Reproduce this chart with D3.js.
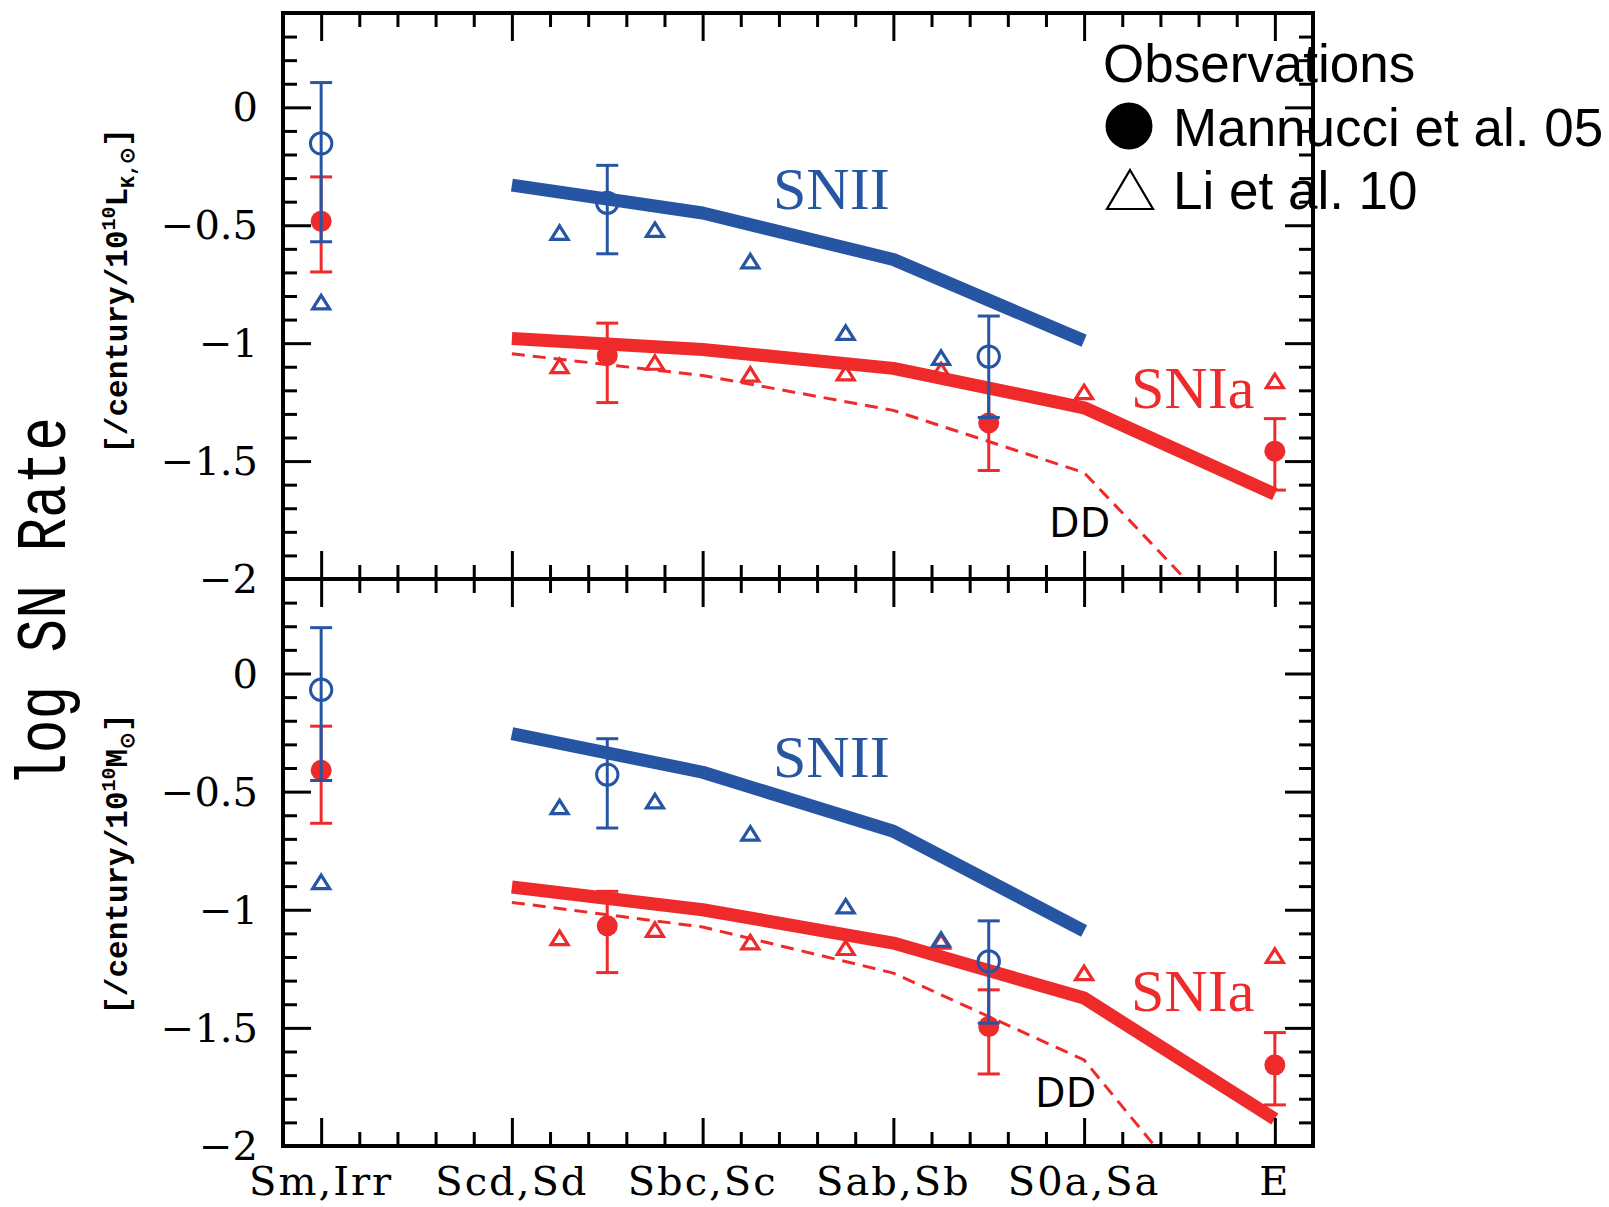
<!DOCTYPE html>
<html><head><meta charset="utf-8">
<script src="https://cdn.jsdelivr.net/npm/d3@7"></script>
<style>html,body{margin:0;padding:0;background:#fff;} svg{display:block;}</style>
</head><body>
<svg id="chart" width="1609" height="1207"></svg>
<script>
// Galaxy morphological types along the x axis
const categories = ["Sm,Irr", "Scd,Sd", "Sbc,Sc", "Sab,Sb", "S0a,Sa", "E"];
const yTickValues = [0, -0.5, -1, -1.5, -2];
const yTickLabels = ["0", "\u22120.5", "\u22121", "\u22121.5", "\u22122"];

// Model curves evaluated at the integer type positions
const modelX = [1, 2, 3, 4, 5];
const modelSNII_K = [-0.33, -0.448, -0.645, -0.99];
const modelSNIa_K = [-0.98, -1.027, -1.107, -1.274, -1.64];
const modelDD_K = [-1.045, -1.137, -1.285, -1.549, -2.40];
const modelSNII_M = [-0.254, -0.418, -0.668, -1.09];
const modelSNIa_M = [-0.904, -1.0, -1.141, -1.374, -1.886];
const modelDD_M = [-0.969, -1.073, -1.268, -1.636, -2.62];

// Mannucci et al. 2005 rates with error bars
const mannX_Ia = [0, 1.5, 3.5, 5];
const mannX_II = [0, 1.5, 3.5];
const mannIa_K = [-0.483, -1.053, -1.338, -1.458];
const mannIa_K_hi = [-0.295, -0.915, -1.18, -1.32];
const mannIa_K_lo = [-0.698, -1.252, -1.54, -1.623];
const mannII_K = [-0.153, -0.405, -1.057];
const mannII_K_hi = [0.105, -0.246, -0.885];
const mannII_K_lo = [-0.57, -0.621, -1.315];
const mannIa_M = [-0.41, -1.068, -1.494, -1.657];
const mannIa_M_hi = [-0.223, -0.922, -1.339, -1.52];
const mannIa_M_lo = [-0.634, -1.266, -1.695, -1.826];
const mannII_M = [-0.069, -0.428, -1.219];
const mannII_M_hi = [0.194, -0.276, -1.047];
const mannII_M_lo = [-0.453, -0.654, -1.48];

// Li et al. 2010 rates
const liX_II = [0, 1.25, 1.75, 2.25, 2.75, 3.25];
const liX_Ia = [1.25, 1.75, 2.25, 2.75, 3.25, 4, 5];
const liII_K = [-0.827, -0.532, -0.52, -0.653, -0.956, -1.062];
const liIa_K = [-1.097, -1.083, -1.133, -1.128, -1.115, -1.208, -1.161];
const liII_M = [-0.883, -0.566, -0.541, -0.678, -0.986, -1.127];
const liIa_M = [-1.12, -1.085, -1.138, -1.162, -1.135, -1.268, -1.195];

const BLUE = "#2656a3", RED = "#ee2a2a";
const frameL = 283, frameR = 1313, frameT = 13, frameMid = 579, frameB = 1146;

const svg = d3.select("#chart");
svg.append("rect").attr("width", 1609).attr("height", 1207).attr("fill", "#fff");

const x = d3.scaleLinear().domain([-0.2, 5.2]).range([frameL, frameR]);

const panels = [
  {
    y: d3.scaleLinear().domain([-2, 0.4]).range([frameMid, frameT]), y0: frameT, y1: frameMid, id: "K",
    snII: modelSNII_K, snIa: modelSNIa_K, dd: modelDD_K,
    mIa: [mannIa_K, mannIa_K_hi, mannIa_K_lo], mII: [mannII_K, mannII_K_hi, mannII_K_lo],
    lII: liII_K, lIa: liIa_K,
    labII: [773, 209], labIa: [1131, 408], labDD: [1049, 537]
  },
  {
    y: d3.scaleLinear().domain([-2, 0.4]).range([frameB, frameMid]), y0: frameMid, y1: frameB, id: "M",
    snII: modelSNII_M, snIa: modelSNIa_M, dd: modelDD_M,
    mIa: [mannIa_M, mannIa_M_hi, mannIa_M_lo], mII: [mannII_M, mannII_M_hi, mannII_M_lo],
    lII: liII_M, lIa: liIa_M,
    labII: [773, 777], labIa: [1131, 1011], labDD: [1035, 1107]
  }
];

const triPath = "M0,-7 L8.5,6.5 L-8.5,6.5 Z";

function zip(xs, ys) { return xs.map((v, i) => [v, ys[i]]); }

function drawErr(g, data, y, color) {
  const eg = g.append("g").attr("stroke", color).attr("stroke-width", 3);
  eg.selectAll("line.v").data(data).join("line").attr("class", "v")
    .attr("x1", d => x(d.x)).attr("x2", d => x(d.x)).attr("y1", d => y(d.hi)).attr("y2", d => y(d.lo));
  eg.selectAll("line.h").data(data).join("line").attr("class", "h")
    .attr("x1", d => x(d.x) - 11).attr("x2", d => x(d.x) + 11).attr("y1", d => y(d.hi)).attr("y2", d => y(d.hi));
  eg.selectAll("line.l").data(data).join("line").attr("class", "l")
    .attr("x1", d => x(d.x) - 11).attr("x2", d => x(d.x) + 11).attr("y1", d => y(d.lo)).attr("y2", d => y(d.lo));
}

panels.forEach(p => {
  const y = p.y;
  const clipId = "clip" + p.id;
  svg.append("clipPath").attr("id", clipId)
    .append("rect").attr("x", frameL).attr("y", p.y0).attr("width", frameR - frameL).attr("height", p.y1 - p.y0);
  const g = svg.append("g").attr("clip-path", `url(#${clipId})`);
  const line = d3.line().x(d => x(d[0])).y(d => y(d[1]));

  // Li et al. 10, SNIa
  g.append("g").selectAll("path").data(zip(liX_Ia, p.lIa)).join("path")
    .attr("d", triPath).attr("transform", d => `translate(${x(d[0])},${y(d[1])})`)
    .attr("fill", "none").attr("stroke", RED).attr("stroke-width", 3.2);

  // DD model (dashed)
  g.append("path").datum(zip(modelX, p.dd)).attr("d", line)
    .attr("fill", "none").attr("stroke", RED).attr("stroke-width", 3).attr("stroke-dasharray", "13,8");

  // Mannucci et al. 05, SNIa (filled)
  const ia = mannX_Ia.map((v, i) => ({ x: v, y: p.mIa[0][i], hi: p.mIa[1][i], lo: p.mIa[2][i] }));
  drawErr(g, ia, y, RED);
  g.append("g").selectAll("circle").data(ia).join("circle")
    .attr("cx", d => x(d.x)).attr("cy", d => y(d.y)).attr("r", 10.5).attr("fill", RED);

  // SNIa model
  g.append("path").datum(zip(modelX, p.snIa)).attr("d", line)
    .attr("fill", "none").attr("stroke", RED).attr("stroke-width", 13).attr("stroke-linejoin", "bevel");

  // Li et al. 10, SNII
  g.append("g").selectAll("path").data(zip(liX_II, p.lII)).join("path")
    .attr("d", triPath).attr("transform", d => `translate(${x(d[0])},${y(d[1])})`)
    .attr("fill", "none").attr("stroke", BLUE).attr("stroke-width", 3.2);

  // Mannucci et al. 05, SNII (open)
  const ii = mannX_II.map((v, i) => ({ x: v, y: p.mII[0][i], hi: p.mII[1][i], lo: p.mII[2][i] }));
  drawErr(g, ii, y, BLUE);
  g.append("g").selectAll("circle").data(ii).join("circle")
    .attr("cx", d => x(d.x)).attr("cy", d => y(d.y)).attr("r", 10.7)
    .attr("fill", "none").attr("stroke", BLUE).attr("stroke-width", 3);

  // SNII model
  g.append("path").datum(zip(modelX.slice(0, p.snII.length), p.snII)).attr("d", line)
    .attr("fill", "none").attr("stroke", BLUE).attr("stroke-width", 13).attr("stroke-linejoin", "bevel");

  // curve labels
  svg.append("text").attr("x", p.labII[0]).attr("y", p.labII[1]).text("SNII")
    .attr("font-family", "Liberation Serif").attr("font-size", 60).attr("fill", BLUE);
  svg.append("text").attr("x", p.labIa[0]).attr("y", p.labIa[1]).text("SNIa")
    .attr("font-family", "Liberation Serif").attr("font-size", 60).attr("fill", RED);
  svg.append("text").attr("x", p.labDD[0]).attr("y", p.labDD[1]).text("DD")
    .attr("font-family", "Noto Sans").attr("font-size", 42).attr("fill", "#000");

  // axes with inward ticks on all four sides
  const xMinor = d3.range(1, 26).filter(i => i % 5 !== 0).map(i => i * 0.2);
  const xMajor = d3.range(0, 6);
  const yMinor = d3.range(-19, 4).filter(i => i % 5 !== 0).map(i => i / 10);
  const yMajor = [-1.5, -1, -0.5, 0];
  const ax = [
    [d3.axisTop(x), `translate(0,${p.y0})`, xMajor, xMinor],
    [d3.axisBottom(x), `translate(0,${p.y1})`, xMajor, xMinor],
    [d3.axisLeft(y), `translate(${frameL},0)`, yMajor, yMinor],
    [d3.axisRight(y), `translate(${frameR},0)`, yMajor, yMinor]
  ];
  ax.forEach(([a, tr, maj, min]) => {
    [[maj, 28], [min, 14]].forEach(([vals, len]) => {
      const gg = svg.append("g").attr("transform", tr)
        .call(a.tickValues(vals).tickSizeInner(-len).tickSizeOuter(0).tickFormat(() => ""));
      gg.select(".domain").remove();
      gg.selectAll(".tick line").attr("stroke", "#000").attr("stroke-width", 3);
    });
  });

  // y tick labels
  svg.append("g").selectAll("text").data(yTickValues).join("text")
    .attr("x", 258).attr("y", d => y(d) + 14).attr("text-anchor", "end")
    .attr("font-family", "DejaVu Serif").attr("font-size", 40).attr("fill", "#000")
    .text((d, i) => yTickLabels[i]);
});

// frame
svg.append("rect").attr("x", frameL).attr("y", frameT).attr("width", frameR - frameL).attr("height", frameB - frameT)
  .attr("fill", "none").attr("stroke", "#000").attr("stroke-width", 4);
svg.append("line").attr("x1", frameL).attr("x2", frameR).attr("y1", frameMid).attr("y2", frameMid)
  .attr("stroke", "#000").attr("stroke-width", 4);

// x category labels
svg.append("g").selectAll("text").data(categories).join("text")
  .attr("x", (d, i) => x(i)).attr("y", 1195).attr("text-anchor", "middle")
  .attr("font-family", "DejaVu Serif").attr("font-size", 40).attr("letter-spacing", 2)
  .attr("fill", "#000").text(d => d);

// axis titles
svg.append("text").attr("transform", "translate(65,602) rotate(-90) scale(1,1.25)")
  .attr("text-anchor", "middle").attr("font-family", "Liberation Mono").attr("font-size", 56)
  .attr("fill", "#000").text("log SN Rate");

function subTitle(cx, cy, unit, sub) {
  const t = svg.append("text").attr("transform", `translate(${cx},${cy}) rotate(-90)`)
    .attr("text-anchor", "middle").attr("font-family", "Liberation Mono").attr("font-weight", "bold")
    .attr("font-size", 31).attr("fill", "#000");
  t.append("tspan").text("[/century/10");
  t.append("tspan").attr("dy", -12).attr("font-size", 20).text("10");
  t.append("tspan").attr("dy", 12).text(unit);
  t.append("tspan").attr("dy", 7).attr("font-size", 20).text(sub);
  t.append("tspan").attr("dy", -7).text("]");
}
subTitle(127, 291, "L", "K,\u2299");
subTitle(127, 864, "M", "\u2299");

// legend
const leg = svg.append("g").attr("font-family", "Liberation Sans").attr("font-size", 53).attr("fill", "#000");
leg.append("text").attr("x", 1103).attr("y", 82).text("Observations");
leg.append("circle").attr("cx", 1129).attr("cy", 126).attr("r", 23.5).attr("fill", "#000");
leg.append("text").attr("x", 1173).attr("y", 146).text("Mannucci et al. 05");
leg.append("path").attr("d", "M1130,170 L1153,209 L1107,209 Z").attr("fill", "none")
  .attr("stroke", "#000").attr("stroke-width", 2.2);
leg.append("text").attr("x", 1173).attr("y", 209).text("Li et al. 10");
</script>
</body></html>
